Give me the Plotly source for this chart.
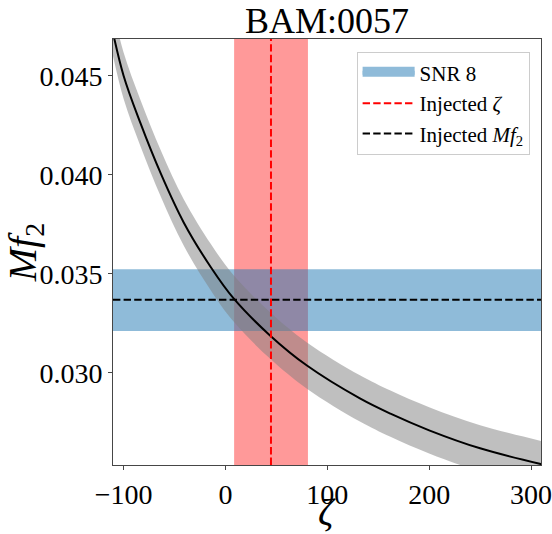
import plotly.graph_objects as go

# ---- data ----
zeta = [-112, -100, -84, -63, -41, -14, 8, 44, 80, 132, 162, 200, 250, 310]
mf2_curve = [0.04754, 0.04500, 0.04268, 0.04000, 0.03759, 0.03530, 0.03375,
             0.03187, 0.03036, 0.02870, 0.02793, 0.02709, 0.02618, 0.02538]
mf2_upper = [0.04871, 0.04617, 0.04385, 0.04117, 0.03876, 0.03647, 0.03492,
             0.03304, 0.03153, 0.02987, 0.02910, 0.02826, 0.02735, 0.02655]
mf2_lower = [0.04637, 0.04383, 0.04151, 0.03883, 0.03642, 0.03413, 0.03258,
             0.03070, 0.02919, 0.02753, 0.02676, 0.02592, 0.02501, 0.02421]

zeta_band = [8.5, 81.0]          # red vertical band
zeta_injected = 44.7
mf2_band = [0.03210, 0.03522]    # SNR 8 band
mf2_injected = 0.03368

x_range = [-110.4, 309.8]
y_range = [0.025338, 0.046853]
x_ticks = [-100, 0, 100, 200, 300]
x_ticklabels = ["\u2212100", "0", "100", "200", "300"]
y_ticks = [0.030, 0.035, 0.040, 0.045]
y_ticklabels = ["0.030", "0.035", "0.040", "0.045"]

title = "BAM:0057"
x_label = "<i>\u03b6</i>"
y_label = "<i>Mf</i><sub>2</sub>"
FONT = "Liberation Serif"
DASH = "7.4px,3.2px"
BLUE_A = "rgba(31,119,180,0.5)"
BLUE_LEGEND = "rgb(143,187,217)"

fig = go.Figure()

# shaded bands (shapes, below traces)
fig.add_vrect(x0=zeta_band[0], x1=zeta_band[1], fillcolor="rgba(255,0,0,0.4)",
              line_width=0, layer="below")
fig.add_hrect(y0=mf2_band[0], y1=mf2_band[1], fillcolor=BLUE_A,
              line_width=0, layer="below")

# gray uncertainty band
fig.add_trace(go.Scatter(x=zeta, y=mf2_lower, mode="lines", line=dict(width=0, shape="spline"),
                         showlegend=False, hoverinfo="skip"))
fig.add_trace(go.Scatter(x=zeta, y=mf2_upper, mode="lines", line=dict(width=0, shape="spline"),
                         fill="tonexty", fillcolor="rgba(128,128,128,0.5)",
                         showlegend=False, hoverinfo="skip"))
# central curve
fig.add_trace(go.Scatter(x=zeta, y=mf2_curve, mode="lines",
                         line=dict(color="black", width=2, shape="spline"),
                         showlegend=False))

# injected lines (drawn as shapes)
fig.add_vline(x=zeta_injected, line=dict(color="red", width=2, dash=DASH), layer="above")
fig.add_hline(y=mf2_injected, line=dict(color="black", width=2, dash=DASH), layer="above")

# legend entries
fig.add_trace(go.Scatter(x=[None], y=[None], mode="lines", fill="toself",
                         fillcolor=BLUE_LEGEND, line=dict(color=BLUE_LEGEND, width=8),
                         name="SNR 8", legendgroup="a", legendrank=1))
fig.add_trace(go.Scatter(x=[None], y=[None], mode="lines",
                         line=dict(color="red", width=2, dash=DASH),
                         name="Injected <i>\u03b6</i>", legendgroup="b", legendrank=2))
fig.add_trace(go.Scatter(x=[None], y=[None], mode="lines",
                         line=dict(color="black", width=2, dash=DASH),
                         name="Injected <i>Mf</i><sub>2</sub>", legendgroup="c", legendrank=3))

axis_common = dict(showgrid=False, zeroline=False, showline=True, mirror=True,
                   linecolor="rgb(70,70,70)", linewidth=1, ticks="outside",
                   ticklen=4, tickwidth=1, tickcolor="rgb(70,70,70)", automargin=False,
                   ticklabeloverflow="allow",
                   tickfont=dict(family=FONT, size=28, color="black"))

fig.update_layout(
    width=552, height=534,
    margin=dict(l=113, r=11, t=39, b=69, autoexpand=False),
    paper_bgcolor="white", plot_bgcolor="white",
    font=dict(family=FONT, color="black"),
    title=dict(text=title, xref="paper", x=0.5, xanchor="center",
               yref="container", y=1 - 20 / 534, yanchor="middle",
               font=dict(family=FONT, size=36, color="black")),
    xaxis=dict(range=x_range, tickvals=x_ticks, ticktext=x_ticklabels, **axis_common),
    yaxis=dict(range=y_range, tickvals=y_ticks, ticktext=y_ticklabels,
               title=dict(text=y_label, font=dict(family=FONT, size=40), standoff=0),
               **axis_common),
    legend=dict(x=0.9734, y=0.9702, xanchor="right", yanchor="top",
                traceorder="normal", tracegroupgap=7,
                bgcolor="rgba(255,255,255,0.8)", bordercolor="#cccccc", borderwidth=1,
                font=dict(family=FONT, size=21, color="black"),
                itemwidth=52),
    showlegend=True,
)

# x-axis label placed under the tick labels
fig.add_annotation(text=x_label, xref="paper", yref="paper", x=0.5, y=0,
                   xanchor="center", yanchor="top", yshift=-24, showarrow=False,
                   font=dict(family=FONT, size=38, color="black"))

fig.write_html("out.html")
